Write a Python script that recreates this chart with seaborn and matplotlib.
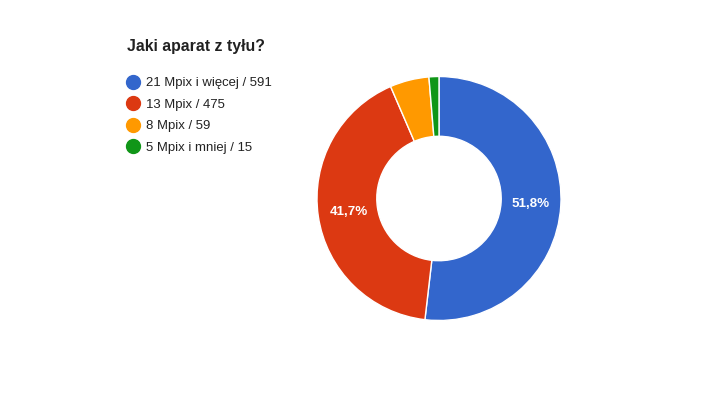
import matplotlib
matplotlib.use("Agg")
import matplotlib.pyplot as plt
import seaborn as sns
from matplotlib.lines import Line2D

categories = ["21 Mpix i więcej", "13 Mpix", "8 Mpix", "5 Mpix i mniej"]
counts = [591, 475, 59, 15]
colors = ["#3366cc", "#dc3912", "#ff9900", "#109618"]
title = "Jaki aparat z tyłu?"

sns.set_theme(style="white")
plt.rcParams["font.family"] = ["Liberation Sans", "DejaVu Sans"]

W, H = 704, 396
fig = plt.figure(figsize=(W / 100, H / 100), dpi=100)
fig.patch.set_facecolor("white")

cx, cy, r = 439, 198.5, 122
ax = fig.add_axes([(cx - r) / W, (H - cy - r) / H, 2 * r / W, 2 * r / H])


def fmt(p):
    if p < 10:
        return ""
    return f"{p:.1f}%".replace(".", ",")


wedges, texts, autotexts = ax.pie(
    counts,
    colors=colors,
    startangle=90,
    counterclock=False,
    radius=1.0,
    autopct=fmt,
    pctdistance=0.75,
    wedgeprops=dict(width=0.49, edgecolor="white", linewidth=1),
    textprops=dict(color="white", fontsize=9.6, fontweight="bold"),
)
ax.set_xlim(-1, 1)
ax.set_ylim(-1, 1)
ax.set_aspect("equal")
ax.axis("off")

fig.text(127 / W, 1 - 47 / H, title, fontsize=11.4, fontweight="bold",
         color="#212121", va="center", ha="left")

handles = [Line2D([0], [0], marker="o", linestyle="", markersize=10,
                  markerfacecolor=c, markeredgecolor=c) for c in colors]
labels = [f"{c} / {v}" for c, v in zip(categories, counts)]
leg = fig.legend(handles, labels, loc="upper left",
                 bbox_to_anchor=(119 / W, 1 - 72 / H),
                 frameon=False, fontsize=9.45, handletextpad=0.25,
                 labelspacing=0.7, handlelength=1.4, borderaxespad=0)
for t in leg.get_texts():
    t.set_color("#222222")

fig.savefig("out.png", dpi=100)
